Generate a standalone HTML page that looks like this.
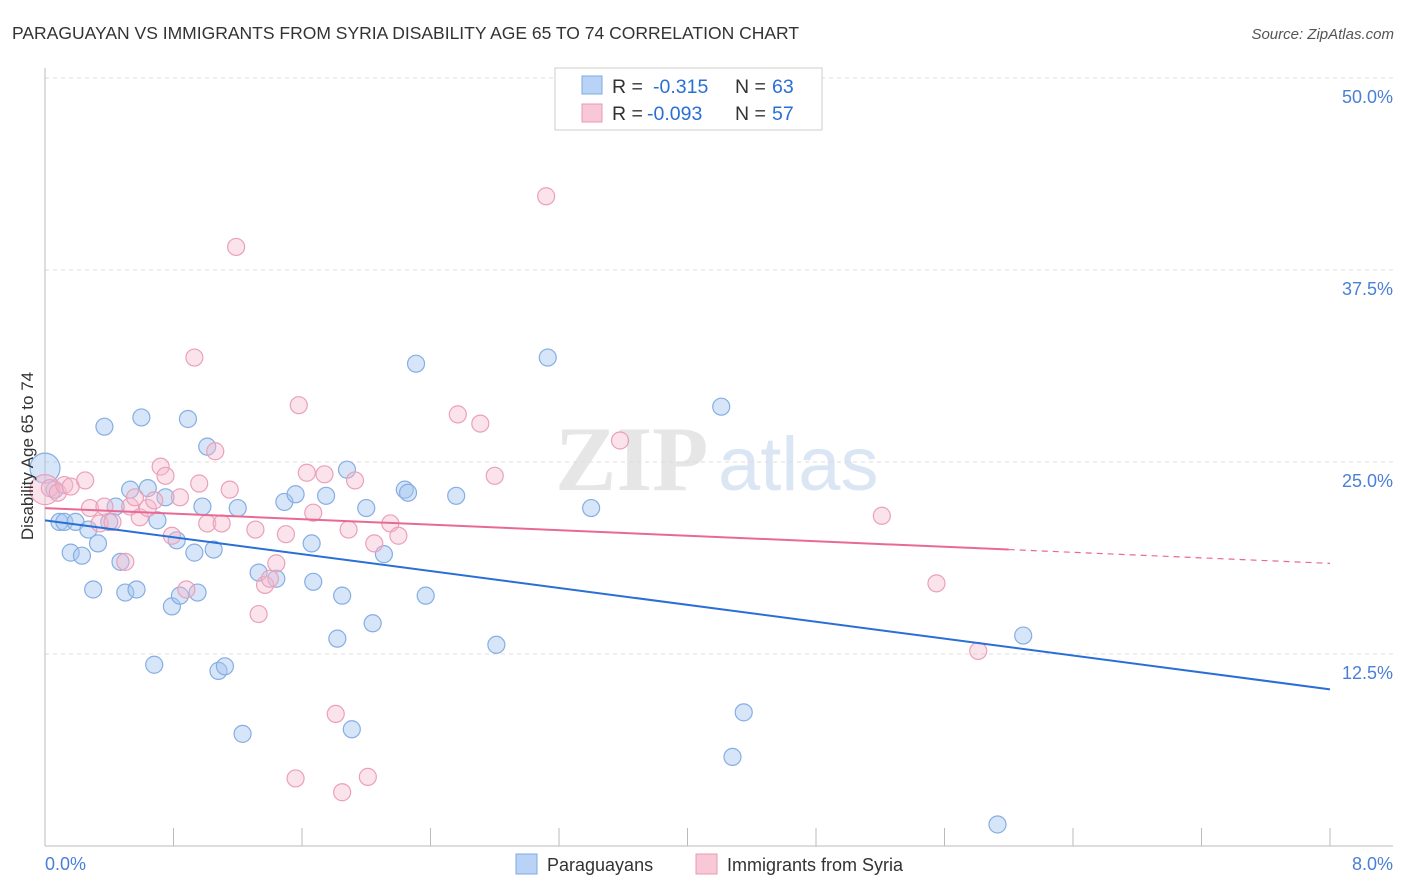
<!DOCTYPE html>
<html><head><meta charset="utf-8"><style>
body{margin:0;background:#fff;font-family:"Liberation Sans",sans-serif;}
svg{display:block}
</style></head><body>
<svg id="chart" width="1406" height="892" xmlns="http://www.w3.org/2000/svg">
<text x="12" y="39" font-size="17.5" fill="#333">PARAGUAYAN VS IMMIGRANTS FROM SYRIA DISABILITY AGE 65 TO 74 CORRELATION CHART</text>
<text x="1394" y="39" font-size="15" fill="#555" font-style="italic" text-anchor="end">Source: ZipAtlas.com</text>
<g><text x="555" y="490" font-size="92" fill="#e6e6e6" font-family="Liberation Serif,serif" font-weight="bold">ZIP</text><text x="718" y="490" font-size="76" fill="#dbe6f5">atlas</text></g>
<g id="grid"></g><g id="axes"></g><g id="marks"></g><g id="lines"></g>
<text transform="translate(33,456) rotate(-90)" font-size="17" fill="#333" text-anchor="middle">Disability Age 65 to 74</text>
<g>
<rect x="555" y="68" width="267" height="62" fill="#fff" stroke="#ccc"/>
<rect x="582" y="76" width="20" height="18" fill="#b8d3f5" stroke="#7fa9e0"/>
<rect x="582" y="104" width="20" height="18" fill="#f9c8d7" stroke="#e89ab5"/>
<text y="93" font-size="19.5" fill="#333"><tspan x="612">R =</tspan><tspan x="653" fill="#2a6fd6">-0.315</tspan><tspan x="735">N =</tspan><tspan x="772" fill="#2a6fd6">63</tspan></text>
<text y="120" font-size="19.5" fill="#333"><tspan x="612">R =</tspan><tspan x="647" fill="#2a6fd6">-0.093</tspan><tspan x="735">N =</tspan><tspan x="772" fill="#2a6fd6">57</tspan></text>
</g>
<g>
<rect x="516" y="854" width="21" height="20" fill="#b8d3f5" stroke="#7fa9e0"/>
<text x="547" y="871" font-size="18" fill="#333">Paraguayans</text>
<rect x="696" y="854" width="21" height="20" fill="#f9c8d7" stroke="#e89ab5"/>
<text x="727" y="871" font-size="18" fill="#333">Immigrants from Syria</text>
</g>
</svg>
<script>
const blueX=[0,0.06,0.09,0.12,0.16,0.19,0.23,0.27,0.30,0.33,0.37,0.40,0.44,0.47,0.50,0.53,0.57,0.60,0.64,0.68,0.70,0.75,0.79,0.82,0.84,0.89,0.93,0.95,0.98,1.01,1.05,1.08,1.12,1.20,1.23,1.33,1.44,1.49,1.56,1.66,1.67,1.75,1.82,1.85,1.88,1.91,2.00,2.04,2.11,2.24,2.26,2.31,2.37,2.56,2.81,3.13,3.40,4.21,4.28,4.35,5.93,6.09];
const blueY=[24.6,23.2,21.1,21.1,19.1,21.1,18.9,20.6,16.7,19.7,27.3,21.1,22.1,18.5,16.5,23.2,16.7,27.9,23.3,11.8,21.2,22.7,15.6,19.9,16.3,27.8,19.1,16.5,22.1,26.0,19.3,11.4,11.7,22.0,7.3,17.8,17.4,22.4,22.9,19.7,17.2,22.8,13.5,16.3,24.5,7.6,22.0,14.5,19.0,23.2,23.0,31.4,16.3,22.8,13.1,31.8,22.0,28.6,5.8,8.7,1.4,13.7];
const pinkX=[0,0.03,0.08,0.12,0.16,0.25,0.28,0.34,0.37,0.42,0.50,0.53,0.56,0.59,0.64,0.68,0.72,0.75,0.79,0.84,0.88,0.93,0.96,1.01,1.06,1.10,1.15,1.19,1.31,1.33,1.37,1.40,1.44,1.50,1.56,1.58,1.63,1.67,1.74,1.81,1.85,1.89,1.93,2.01,2.05,2.15,2.20,2.57,2.71,2.80,3.12,3.58,5.21,5.55,5.81];
const pinkY=[23.2,23.3,23.0,23.5,23.4,23.8,22.0,21.0,22.1,21.1,18.5,22.1,22.7,21.4,22.0,22.5,24.7,24.1,20.2,22.7,16.7,31.8,23.6,21.0,25.7,21.0,23.2,39.0,20.6,15.1,17.0,17.4,18.4,20.3,4.4,28.7,24.3,21.7,24.2,8.6,3.5,20.6,23.8,4.5,19.7,21.0,20.2,28.1,27.5,24.1,42.3,26.4,21.5,17.1,12.7];
const blueTrend=[21.2,10.2];
const pinkTrend=[22.0,18.4];
const pinkSolidEnd=6.0;
const yTicks=[12.5,25,37.5,50];
const yTickLabels=["12.5%","25.0%","37.5%","50.0%"];
const xTicks=[0,0.8,1.6,2.4,3.2,4,4.8,5.6,6.4,7.2,8];
const NS="http://www.w3.org/2000/svg";
const xs=v=>45+v/8*1285;
const ys=v=>846-v/12.5*192;
function mk(tag,attrs,parent){const e=document.createElementNS(NS,tag);for(const k in attrs)e.setAttribute(k,attrs[k]);parent.appendChild(e);return e;}
const grid=document.getElementById('grid'),axes=document.getElementById('axes'),marks=document.getElementById('marks'),lines=document.getElementById('lines');
yTicks.forEach((t,i)=>{
 const l=mk('line',{x1:45,x2:1393,y1:ys(t),y2:ys(t),stroke:'#ddd','stroke-dasharray':'4,4'},grid);
 
 
 const tx=mk('text',{x:1393,y:ys(t)+25,'font-size':18,fill:'#4a7fd8','text-anchor':'end'},axes);
 tx.textContent=yTickLabels[i];
 
 
});
const ya=mk('line',{x1:45,x2:45,y1:68,y2:846,stroke:'#bbb'},axes);


const xa=mk('line',{x1:45,x2:1393,y1:846,y2:846,stroke:'#bbb'},axes);


xTicks.forEach(t=>{
 const l=mk('line',{x1:xs(t),x2:xs(t),y1:828,y2:846,stroke:'#bbb'},axes);
 
 
});
[[0,'0.0%','start',45],[8,'8.0%','end',1393]].forEach(a=>{
 const tx=mk('text',{x:a[3],y:870,'font-size':18,fill:'#4a7fd8','text-anchor':a[2]},axes);
 tx.textContent=a[1];
 
 
});
function dots(X,Y,fill,stroke,name){
 X.forEach((x,i)=>{
  const r=(x===0)?15:8.5;
  const c=mk('circle',{cx:xs(x),cy:ys(Y[i]),r:r,fill:fill,stroke:stroke,'stroke-width':1.2},marks);
  
  
 });
}
dots(blueX,blueY,'rgba(165,198,240,0.45)','#86aee3','paraguayan-point');
dots(pinkX,pinkY,'rgba(246,184,204,0.4)','#eba0ba','syria-point');
const bl=mk('line',{x1:xs(0),y1:ys(blueTrend[0]),x2:xs(8),y2:ys(blueTrend[1]),stroke:'#2a6fd6','stroke-width':2},lines);


const pm=pinkTrend[0]+(pinkTrend[1]-pinkTrend[0])*pinkSolidEnd/8;
const pl=mk('line',{x1:xs(0),y1:ys(pinkTrend[0]),x2:xs(pinkSolidEnd),y2:ys(pm),stroke:'#e86a93','stroke-width':2},lines);


const pd=mk('line',{x1:xs(pinkSolidEnd),y1:ys(pm),x2:xs(8),y2:ys(pinkTrend[1]),stroke:'#e86a93','stroke-width':1.2,'stroke-dasharray':'6,5'},lines);


</script>
</body></html>
